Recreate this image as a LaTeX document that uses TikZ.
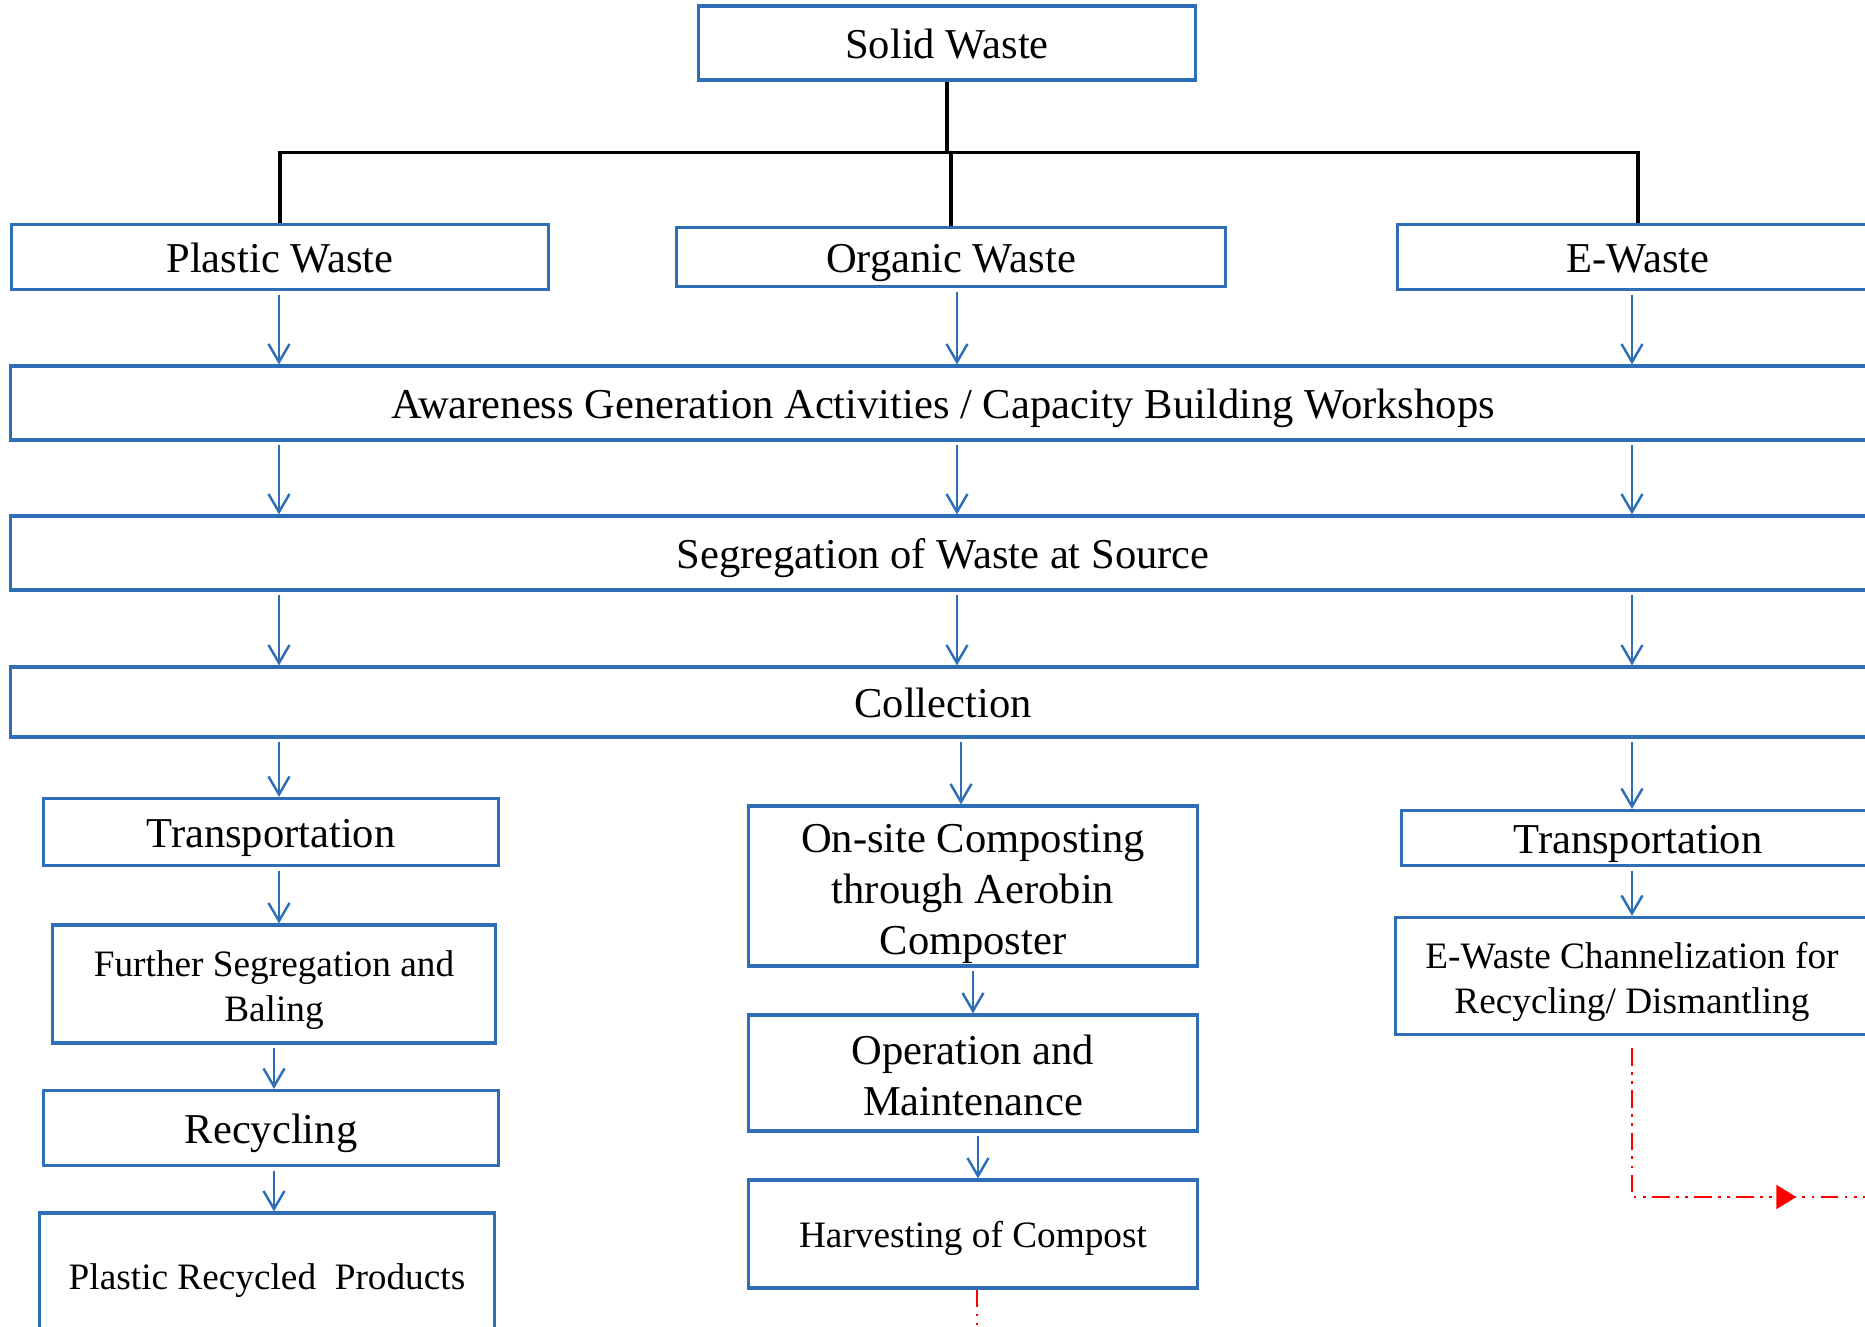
\documentclass[tikz,border=0pt]{standalone}
\usepackage{fontspec}
\setmainfont{Liberation Serif}
\usetikzlibrary{arrows.meta, positioning, decorations.markings}
\definecolor{boxblue}{RGB}{46,110,182}

\begin{document}
\begin{tikzpicture}[x=0.01cm, y=-0.01cm,
    % Styles
    wastebox/.style={draw=boxblue, line width=0.9pt, inner xsep=2pt, inner ysep=0pt, align=center,
        font=\fontsize{12.1}{14.5}\selectfont,
        execute at begin node={\rule{0pt}{1em}},
        execute at end node={\rule[-0.26em]{0pt}{0.26em}}},
    smallbox/.style={wastebox, font=\fontsize{10.6}{12.9}\selectfont},
    arrowstyle/.style={-{Straight Barb[length=1.8mm, width=2.1mm]}, draw=boxblue, line width=0.7pt, shorten <=1pt},
    treeline/.style={draw=black, line width=0.9pt},
    redflow/.style={draw=red, line width=0.6pt, dash pattern=on 5pt off 1.8pt on 0.8pt off 1.8pt on 0.8pt off 1.8pt},
]
    % Page frame (picture is cut at right and bottom)
    \useasboundingbox (0,0) rectangle (1865,1327);
    \clip (0,0) rectangle (1865,1327);

    % Root and the three waste streams
    \node[wastebox, minimum width=4.97cm, minimum height=0.74cm] (solid) at (947,43) {Solid Waste};
    \node[wastebox, minimum width=5.37cm, minimum height=0.65cm] (plastic) at (280,257) {Plastic Waste};
    \node[wastebox, minimum width=5.48cm, minimum height=0.59cm] (organic) at (951,257) {Organic Waste};
    \node[wastebox, minimum width=4.80cm, minimum height=0.65cm] (ewaste) at (1638,257) {E-Waste};

    % Tree from solid waste
    \draw[treeline] (solid.south) -- ++(0,71) coordinate (hub);
    \draw[treeline] (plastic.north) |- (hub) -| (ewaste.north);
    \draw[treeline] (hub) -| (organic.north);

    % Columns the arrows run down
    \coordinate (leftcol) at (279,0);
    \coordinate (midcol) at (957,0);
    \coordinate (rightcol) at (1632,0);

    % Common stages across the full width
    \node[wastebox, minimum width=18.64cm, minimum height=0.74cm] (aware) at (943,403) {Awareness Generation Activities / Capacity Building Workshops};
    \node[wastebox, minimum width=18.64cm, minimum height=0.74cm] (segregate) at (943,553) {Segregation of Waste at Source};
    \node[wastebox, minimum width=18.64cm, minimum height=0.70cm] (collect) at (943,702) {Collection};

    \draw[arrowstyle] (leftcol |- plastic.south) -- (leftcol |- aware.north);
    \draw[arrowstyle] (midcol |- organic.south) -- (midcol |- aware.north);
    \draw[arrowstyle] (rightcol |- ewaste.south) -- (rightcol |- aware.north);
    \draw[arrowstyle] (leftcol |- aware.south) -- (leftcol |- segregate.north);
    \draw[arrowstyle] (midcol |- aware.south) -- (midcol |- segregate.north);
    \draw[arrowstyle] (rightcol |- aware.south) -- (rightcol |- segregate.north);
    \draw[arrowstyle] (leftcol |- segregate.south) -- (leftcol |- collect.north);
    \draw[arrowstyle] (midcol |- segregate.south) -- (midcol |- collect.north);
    \draw[arrowstyle] (rightcol |- segregate.south) -- (rightcol |- collect.north);

    % Plastic chain
    \node[wastebox, minimum width=4.54cm, minimum height=0.67cm] (translft) at (271,832) {Transportation};
    \node[smallbox, minimum width=4.43cm, minimum height=1.18cm] (further) at (274,984) {\rule{0pt}{1.07em}Further Segregation and\\Baling};
    \node[wastebox, minimum width=4.54cm, minimum height=0.75cm] (recycle) at (271,1128) {Recycling};
    \node[smallbox, minimum width=4.54cm, minimum height=1.26cm] (products) at (267,1276) {Plastic Recycled~~Products};

    \draw[arrowstyle] (leftcol |- collect.south) -- (leftcol |- translft.north);
    \draw[arrowstyle] (leftcol |- translft.south) -- (leftcol |- further.north);
    \draw[arrowstyle] (further.south) -- (further |- recycle.north);
    \draw[arrowstyle] (further |- recycle.south) -- (further |- products.north);

    % Organic chain
    \node[wastebox, minimum width=4.48cm, minimum height=1.60cm] (onsite) at (973,886) {\rule{0pt}{1.07em}On-site Composting\\through Aerobin\\Composter};
    \node[wastebox, minimum width=4.48cm, minimum height=1.16cm] (operate) at (973,1073) {\rule{0pt}{1.07em}Operation and\\Maintenance};
    \node[smallbox, minimum width=4.48cm, minimum height=1.08cm] (harvest) at (973,1234) {Harvesting of Compost};

    \draw[arrowstyle] ([xshift=0.4mm]midcol |- collect.south) -- ([xshift=0.4mm]midcol |- onsite.north);
    \draw[arrowstyle] (onsite.south) -- (onsite |- operate.north);
    \draw[arrowstyle] ([xshift=0.5mm]operate.south) -- ([xshift=0.5mm]harvest.north);
    \draw[redflow] ([xshift=0.4mm]harvest.south) -- ++(0,60);

    % E-waste chain
    \node[wastebox, minimum width=4.72cm, minimum height=0.55cm] (transrgt) at (1638,838) {Transportation};
    \node[smallbox, minimum width=4.72cm, minimum height=1.17cm] (channel) at (1632,976) {\rule{0pt}{1.07em}E-Waste Channelization for\\Recycling/ Dismantling};

    \draw[arrowstyle] (rightcol |- collect.south) -- (rightcol |- transrgt.north);
    \draw[arrowstyle] (channel |- transrgt.south) -- (channel.north);

    \coordinate (redend) at (1880,1197);
    \draw[redflow, postaction={decorate}, decoration={markings,
          mark=at position 3.13cm with {\arrow[red]{Triangle[length=2mm, width=2.4mm]}}}]
        ([yshift=-1.2mm]channel.south) |- (redend);
\end{tikzpicture}
\end{document}
